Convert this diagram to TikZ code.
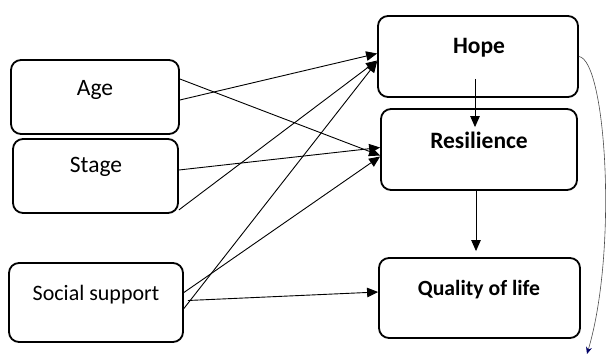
\documentclass[tikz,border=0pt]{standalone}
\usepackage{fontspec}
\setmainfont{Carlito}
\usetikzlibrary{arrows.meta}
\begin{document}
\begin{tikzpicture}[x=1pt,y=-1pt,
  box/.style={draw,line width=1.8pt,rounded corners=10pt,inner sep=0pt},
  lbl/.style={font=\fontsize{23.5}{25}\selectfont},
  blbl/.style={font=\fontsize{23.5}{25}\selectfont\bfseries},
  conn/.style={line width=0.9pt,-{Triangle[length=11pt,width=9.5pt]}}]
\useasboundingbox (0,0) rectangle (610,355);
\node[box,minimum width=168pt,minimum height=74pt] (age) at (95,97) {};
\node[lbl] (agetxt) at (95,90) {Age};
\node[box,minimum width=165pt,minimum height=74pt] (stage) at (95.5,176) {};
\node[lbl] (stagetxt) at (96,167) {Stage};
\node[box,minimum width=174pt,minimum height=79pt] (soc) at (96,302.5) {};
\node[font=\fontsize{22}{24}\selectfont] (soctxt) at (96,295) {Social support};
\node[box,minimum width=200pt,minimum height=81pt] (hope) at (478,56.5) {};
\node[blbl] (hopetxt) at (479,48) {Hope};
\node[box,minimum width=196pt,minimum height=81pt] (res) at (479,149.5) {};
\node[blbl] (restxt) at (479,140) {Resilience};
\node[box,minimum width=201pt,minimum height=80pt] (qol) at (479.5,298) {};
\node[font=\fontsize{21.7}{23}\selectfont\bfseries] (qoltxt) at (479,290) {Quality of life};
\coordinate (curveend) at (587,354);
\draw[conn] ([yshift=18pt]age.east) -- ([yshift=-6pt]res.west);
\draw[conn] ([yshift=-3pt]age.east) -- ([yshift=3pt]hope.west);
\draw[conn] ([yshift=6pt]stage.east) -- ([yshift=2pt]res.west);
\draw[conn] ([yshift=4pt]stage.south east) -- ([yshift=-4pt]hope.west);
\draw[conn] ([yshift=10pt]soc.east) -- ([yshift=-7pt]res.west);
\draw[conn] ([yshift=-6pt]soc.east) -- ([yshift=-5pt]hope.west);
\draw[conn] ([xshift=4pt,yshift=2pt]soc.east) -- ([yshift=6pt]qol.west);
\draw[conn] ([xshift=-3pt,yshift=-22.5pt]hope.center) -- ([xshift=-4pt,yshift=-19pt]res.north);
\draw[conn] ([xshift=-3pt]res.south) -- ([xshift=-3.5pt,yshift=6pt]qol.north);
\draw[line width=0.6pt,draw=black!70,-{Stealth[length=7pt,width=6pt,color=blue!40!black]}]
  (hope.east) .. controls (606,60) and (618,250) .. (curveend);
\end{tikzpicture}
\end{document}
